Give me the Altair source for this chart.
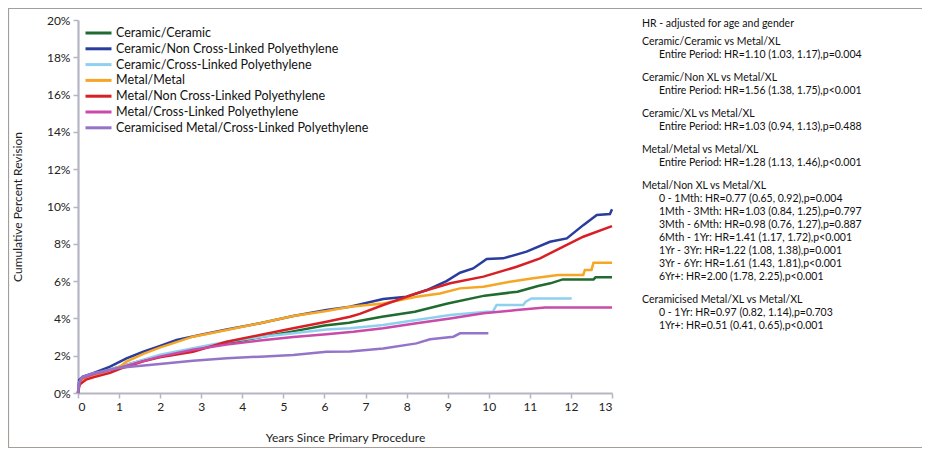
import altair as alt
import pandas as pd

series_names = [
    "Ceramic/Ceramic",
    "Ceramic/Non Cross-Linked Polyethylene",
    "Ceramic/Cross-Linked Polyethylene",
    "Metal/Metal",
    "Metal/Non Cross-Linked Polyethylene",
    "Metal/Cross-Linked Polyethylene",
    "Ceramicised Metal/Cross-Linked Polyethylene",
]
series_colors = ["#1f6b30", "#2a3c9e", "#8fd0ee", "#f6a623", "#d81f26", "#c94aa8", "#9474c8"]

cc_years = [0, 0.03, 0.1, 0.37, 1.0, 1.5, 2.0, 2.8, 3.6, 4.4, 5.2, 6.0, 6.6, 7.4, 8.2, 9.0, 9.9, 10.7, 11.2, 11.5, 11.8, 12.55, 12.6, 13.0]
cc_vals = [0, 0.5, 0.75, 1.0, 1.4, 1.7, 1.95, 2.3, 2.66, 2.98, 3.29, 3.62, 3.77, 4.09, 4.36, 4.8, 5.22, 5.43, 5.74, 5.88, 6.09, 6.09, 6.2, 6.2]

cn_years = [0, 0.03, 0.12, 0.37, 0.78, 1.18, 1.59, 2.0, 2.4, 2.97, 3.62, 4.43, 5.24, 6.05, 6.62, 7.43, 8.0, 8.49, 8.97, 9.3, 9.62, 9.95, 10.35, 10.92, 11.49, 11.9, 12.3, 12.63, 12.95, 13.0]
cn_vals = [0, 0.7, 0.88, 1.06, 1.41, 1.86, 2.21, 2.52, 2.84, 3.11, 3.41, 3.74, 4.13, 4.45, 4.63, 5.04, 5.16, 5.52, 6.0, 6.45, 6.68, 7.18, 7.22, 7.58, 8.11, 8.29, 9.0, 9.54, 9.6, 9.85]

cx_years = [0, 0.03, 0.1, 0.37, 1.0, 2.0, 2.8, 3.62, 4.43, 5.24, 6.05, 6.62, 7.43, 8.24, 9.06, 9.95, 10.1, 10.19, 10.84, 10.9, 11.04, 12.02]
cx_vals = [0, 0.5, 0.75, 1.0, 1.4, 2.05, 2.4, 2.75, 3.0, 3.2, 3.41, 3.47, 3.65, 3.91, 4.18, 4.36, 4.36, 4.72, 4.72, 4.9, 5.07, 5.07]

mm_years = [0, 0.03, 0.1, 0.37, 0.7, 1.02, 1.18, 1.59, 1.99, 2.8, 3.62, 4.43, 5.24, 6.05, 6.62, 7.43, 8.24, 8.81, 9.3, 9.87, 10.52, 11.08, 11.69, 12.3, 12.34, 12.5, 12.55, 13.0]
mm_vals = [0, 0.5, 0.7, 0.95, 1.15, 1.41, 1.68, 2.1, 2.43, 3.02, 3.38, 3.74, 4.13, 4.4, 4.63, 4.8, 5.16, 5.34, 5.61, 5.7, 5.97, 6.15, 6.33, 6.33, 6.6, 6.6, 6.99, 6.99]

mn_years = [0, 0.04, 0.2, 0.37, 0.78, 1.02, 1.59, 1.99, 2.8, 3.62, 4.43, 5.24, 6.05, 6.62, 6.86, 7.43, 8.24, 9.06, 9.87, 10.68, 11.25, 11.73, 12.3, 13.0]
mn_vals = [0, 0.45, 0.72, 0.84, 1.08, 1.3, 1.7, 1.91, 2.21, 2.75, 3.11, 3.47, 3.82, 4.09, 4.24, 4.72, 5.34, 5.88, 6.24, 6.77, 7.22, 7.76, 8.38, 8.95]

mx_years = [0, 0.03, 0.1, 0.37, 1.02, 1.99, 2.8, 3.62, 4.43, 5.24, 6.05, 6.7, 7.43, 8.24, 9.06, 9.87, 10.68, 11.37, 13.0]
mx_vals = [0, 0.55, 0.8, 1.0, 1.36, 1.95, 2.32, 2.6, 2.82, 3.0, 3.15, 3.28, 3.47, 3.74, 4.0, 4.27, 4.45, 4.58, 4.58]

cm_years = [0, 0.03, 0.1, 0.37, 1.02, 1.99, 2.8, 3.62, 4.43, 5.24, 6.05, 6.62, 7.43, 8.24, 8.57, 9.14, 9.3, 9.99]
cm_vals = [0, 0.6, 0.85, 1.06, 1.36, 1.55, 1.73, 1.86, 1.95, 2.04, 2.21, 2.22, 2.39, 2.66, 2.88, 3.02, 3.2, 3.2]

x_ticks = list(range(0, 14))
y_ticks = list(range(0, 21, 2))

hr_lines = [
    ("HR - adjusted for age and gender", 0, 0),
    ("Ceramic/Ceramic vs Metal/XL", 0, 1),
    ("Entire Period: HR=1.10 (1.03, 1.17),p=0.004", 1, 0),
    ("Ceramic/Non XL vs Metal/XL", 0, 1),
    ("Entire Period: HR=1.56 (1.38, 1.75),p<0.001", 1, 0),
    ("Ceramic/XL vs Metal/XL", 0, 1),
    ("Entire Period: HR=1.03 (0.94, 1.13),p=0.488", 1, 0),
    ("Metal/Metal vs Metal/XL", 0, 1),
    ("Entire Period: HR=1.28 (1.13, 1.46),p<0.001", 1, 0),
    ("Metal/Non XL vs Metal/XL", 0, 1),
    ("0 - 1Mth: HR=0.77 (0.65, 0.92),p=0.004", 1, 0),
    ("1Mth - 3Mth: HR=1.03 (0.84, 1.25),p=0.797", 1, 0),
    ("3Mth - 6Mth: HR=0.98 (0.76, 1.27),p=0.887", 1, 0),
    ("6Mth - 1Yr: HR=1.41 (1.17, 1.72),p<0.001", 1, 0),
    ("1Yr - 3Yr: HR=1.22 (1.08, 1.38),p=0.001", 1, 0),
    ("3Yr - 6Yr: HR=1.61 (1.43, 1.81),p<0.001", 1, 0),
    ("6Yr+: HR=2.00 (1.78, 2.25),p<0.001", 1, 0),
    ("Ceramicised Metal/XL vs Metal/XL", 0, 1),
    ("0 - 1Yr: HR=0.97 (0.82, 1.14),p=0.703", 1, 0),
    ("1Yr+: HR=0.51 (0.41, 0.65),p<0.001", 1, 0),
]

all_years = [cc_years, cn_years, cx_years, mm_years, mn_years, mx_years, cm_years]
all_vals = [cc_vals, cn_vals, cx_vals, mm_vals, mn_vals, mx_vals, cm_vals]
rows = []
for name, ys, vs in zip(series_names, all_years, all_vals):
    for i, (a, b) in enumerate(zip(ys, vs)):
        rows.append({"series": name, "years": a, "pct": b, "idx": i})
df = pd.DataFrame(rows)

FONT = "Lato"
W, H = 534, 373

lines = alt.Chart(df).mark_line(strokeWidth=2.5, interpolate="linear").encode(
    x=alt.X("years:Q", scale=alt.Scale(domain=[0, 13], nice=False, zero=False),
            axis=alt.Axis(values=x_ticks, title="Years Since Primary Procedure", format="d",
                          titlePadding=20)),
    y=alt.Y("pct:Q", scale=alt.Scale(domain=[0, 20], nice=False),
            axis=alt.Axis(values=y_ticks, title="Cumulative Percent Revision",
                          labelExpr="datum.value + '%'", titlePadding=22)),
    color=alt.Color("series:N", sort=series_names,
                    scale=alt.Scale(domain=series_names, range=series_colors),
                    legend=alt.Legend(title=None, orient="none", legendX=13, legendY=5.5,
                                      symbolType="M-2.1667,0H2.1667", symbolSize=144,
                                      symbolStrokeWidth=3, labelOffset=10, rowPadding=1.8,
                                      padding=0, labelFontSize=12.5, labelFont=FONT,
                                      labelColor="#111", labelLimit=400)),
    order="idx:Q",
)

one = pd.DataFrame({"k": [0]})
frame = alt.Chart(one).mark_rect(fill="transparent", stroke="#a59d97", strokeWidth=1.2).encode(
    x=alt.value(-69.5), x2=alt.value(900), y=alt.value(-11.5), y2=alt.value(427.5)
)

text_layers = []
ycur = 4.0
for i, (t, indent, newgroup) in enumerate(hr_lines):
    if i > 0:
        ycur += 23.0 if newgroup else 13.0
        if i == 1:
            ycur -= 5.0
    text_layers.append(
        alt.Chart(one).mark_text(align="left", baseline="middle", font=FONT, fontSize=10.5,
                                 color="#111").encode(
            x=alt.value(564 + 17 * indent), y=alt.value(ycur), text=alt.value(t)
        )
    )

chart = alt.layer(frame, lines, *text_layers).properties(
    width=W, height=H,
    autosize=alt.AutoSizeParams(type="none"),
    padding={"left": 70, "top": 12, "right": 310, "bottom": 55},
).configure_axis(
    grid=False, domainColor="#b5b5c4", domainWidth=2.2, tickColor="#b5b5c4", tickWidth=1.5,
    tickSize=5, labelFont=FONT, labelFontSize=12, labelColor="#222", labelPadding=3,
    titleFont=FONT, titleFontSize=12, titleFontWeight="normal", titleColor="#222",
).configure_view(stroke="transparent")

chart.save("out.html", embed_options={"renderer": "svg", "actions": False})
